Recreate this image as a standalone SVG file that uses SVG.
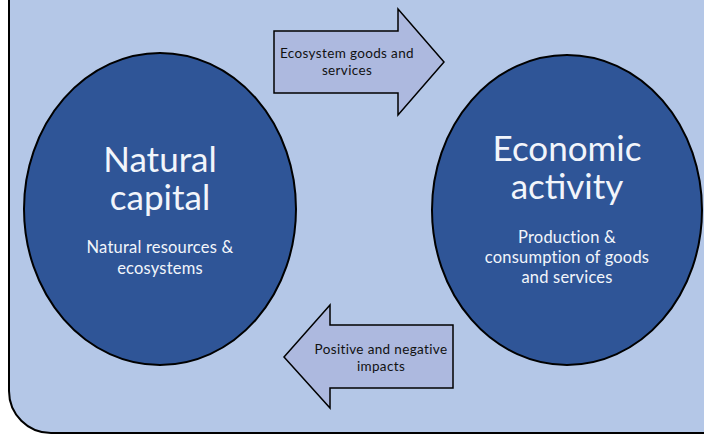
<svg xmlns="http://www.w3.org/2000/svg" width="704" height="435" viewBox="0 0 704 435">
<style>
.bg{fill:#b4c7e7;stroke:#000;stroke-width:2}
.node{fill:#2f5597;stroke:#000;stroke-width:2}
.arrow{fill:#adb9df;stroke:#000;stroke-width:1.5}
.t{font-family:Lato,"Liberation Sans",sans-serif;text-anchor:middle;fill:#f2f5fb}
.big{font-size:35px}
.small{font-size:16.5px;letter-spacing:0.2px}
.lbl{font-family:Lato,"Liberation Sans",sans-serif;text-anchor:middle;fill:#111;font-size:13.5px;letter-spacing:0.35px}
</style>
<rect class="bg" x="9" y="-60" width="740" height="493" rx="42"/>
<g id="natural-capital">
<ellipse class="node" cx="160" cy="209" rx="136" ry="156"/>
<text class="t big" x="160" y="172">Natural</text>
<text class="t big" x="160" y="210">capital</text>
<text class="t small" x="160" y="253">Natural resources &amp;</text>
<text class="t small" x="160" y="274">ecosystems</text>
</g>
<g id="economic-activity">
<ellipse class="node" cx="567" cy="210" rx="135" ry="155"/>
<text class="t big" x="567" y="161">Economic</text>
<text class="t big" x="567" y="199">activity</text>
<text class="t small" x="567" y="243">Production &amp;</text>
<text class="t small" x="567" y="263">consumption of goods</text>
<text class="t small" x="567" y="283">and services</text>
</g>
<g id="connectors">
<g id="ecosystem-goods">
<polygon class="arrow" points="274,31 398,31 398,9 444,62 398,115 398,93 274,93"/>
<text class="lbl" x="347" y="58">Ecosystem goods and</text>
<text class="lbl" x="347" y="75">services</text>
</g>
<g id="impacts">
<polygon class="arrow" points="453,325 330,325 330,305 284,357 330,408 330,388 453,388"/>
<text class="lbl" x="381" y="354">Positive and negative</text>
<text class="lbl" x="381" y="371">impacts</text>
</g>
</g>
</svg>
